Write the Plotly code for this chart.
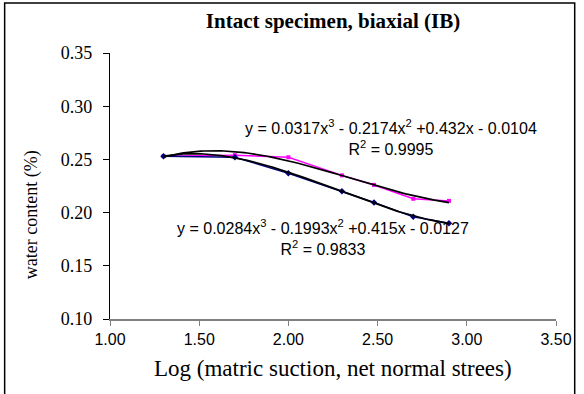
import numpy as np
import plotly.graph_objects as go

# ---- data ----
pink_x = [1.30, 1.70, 2.00, 2.30, 2.48, 2.70, 2.90]
pink_y = [0.253, 0.254, 0.252, 0.235, 0.226, 0.213, 0.211]

blue_x = [1.30, 1.70, 2.00, 2.30, 2.48, 2.70, 2.90]
blue_y = [0.253, 0.252, 0.237, 0.220, 0.2095, 0.196, 0.190]

eq_upper = "y = 0.0317x<sup>3</sup> - 0.2174x<sup>2</sup> +0.432x - 0.0104<br>R<sup>2</sup> = 0.9995"
eq_lower = "y = 0.0284x<sup>3</sup> - 0.1993x<sup>2</sup> +0.415x - 0.0127<br>R<sup>2</sup> = 0.9833"

x_ticks = [1.00, 1.50, 2.00, 2.50, 3.00, 3.50]
y_ticks = [0.10, 0.15, 0.20, 0.25, 0.30, 0.35]

title_text = "<b>Intact specimen, biaxial (IB)</b>"
x_title = "Log (matric suction, net normal strees)"
y_title = "water content (%)"

# ---- figure ----
fig = go.Figure()

fig.add_trace(go.Scatter(x=pink_x, y=pink_y, mode="lines+markers",
                         line=dict(color="#FF00FF", width=1.5),
                         marker=dict(symbol="square", size=4, color="#FF00FF"),
                         showlegend=False))
fig.add_trace(go.Scatter(x=blue_x, y=blue_y, mode="lines+markers",
                         line=dict(color="#000080", width=1.5),
                         marker=dict(symbol="diamond", size=5, color="#000080"),
                         showlegend=False))

# cubic trend lines fitted to each series
for xs, ys in [(pink_x, pink_y), (blue_x, blue_y)]:
    c = np.polyfit(xs, ys, 3)
    xx = np.linspace(min(xs), max(xs), 100)
    fig.add_trace(go.Scatter(x=xx, y=np.polyval(c, xx), mode="lines",
                             line=dict(color="black", width=1.7),
                             showlegend=False, hoverinfo="skip"))

fig.add_annotation(x=2.573, y=0.271, xref="x", yref="y", text=eq_upper,
                   showarrow=False, font=dict(family="Liberation Sans", size=16, color="black"),
                   align="center")
fig.add_annotation(x=2.192, y=0.1763, xref="x", yref="y", text=eq_lower,
                   showarrow=False, font=dict(family="Liberation Sans", size=16, color="black"),
                   align="center")

# axis titles as annotations
fig.add_annotation(x=0.5, y=(319 - 368) / 266, xref="paper", yref="paper", text=x_title,
                   showarrow=False, yanchor="middle",
                   font=dict(family="Liberation Serif", size=23, color="black"))
fig.add_annotation(x=(30 - 110) / 453, y=(319 - 215) / 266, xref="paper", yref="paper",
                   text=y_title, showarrow=False, textangle=-90,
                   xanchor="center", yanchor="middle",
                   font=dict(family="Liberation Serif", size=18, color="black"))

# chart border
fig.add_shape(type="rect", xref="paper", yref="paper",
              x0=(3 - 110) / 453, x1=(582 - 110) / 453,
              y0=(319 - 420) / 266, y1=(319 - 3) / 266,
              line=dict(color="black", width=1.5), layer="below")

fig.update_layout(
    width=584, height=394,
    margin=dict(l=110, r=21, t=53, b=75),
    paper_bgcolor="white", plot_bgcolor="white",
    title=dict(text=title_text, x=0.5, xref="paper", y=1 - 21 / 394, yref="container",
               xanchor="center", yanchor="middle",
               font=dict(family="Liberation Serif", size=21, color="black")),
    xaxis=dict(range=[1.0, 3.5], tickvals=x_ticks, tickformat=".2f",
               showgrid=False, zeroline=False, showline=True, linecolor="#808080",
               linewidth=1.5, ticks="outside", ticklen=5, tickcolor="#808080",
               tickfont=dict(family="Liberation Sans", size=16, color="black")),
    yaxis=dict(range=[0.10, 0.35], tickvals=y_ticks, tickformat=".2f",
               showgrid=False, zeroline=False, showline=True, linecolor="black",
               linewidth=1.2, ticks="outside", ticklen=6, tickcolor="black",
               ticklabelstandoff=7,
               tickfont=dict(family="Liberation Serif", size=18, color="black")),
)

fig.write_html("out.html", config={"displayModeBar": False},
               post_script="document.body.style.margin='0';")
